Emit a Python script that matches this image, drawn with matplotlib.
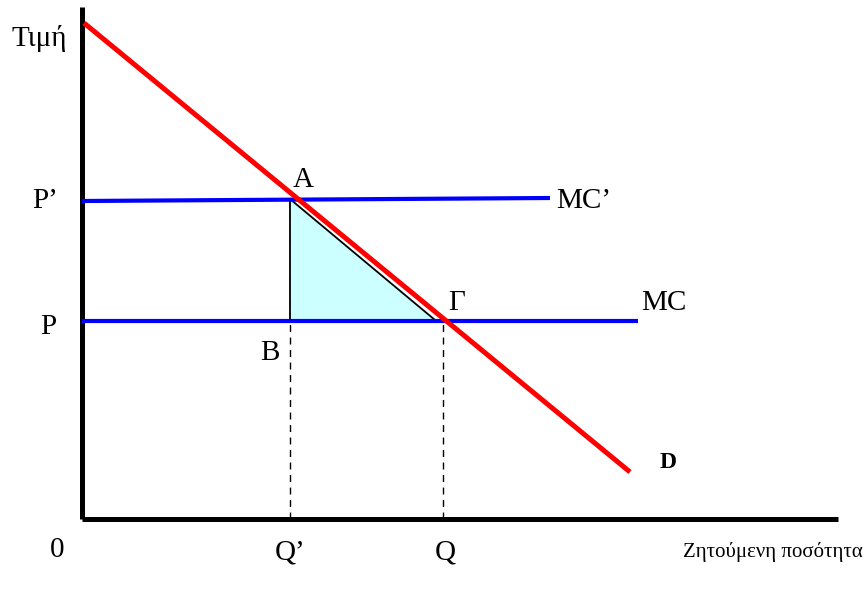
import matplotlib.pyplot as plt

# Demand / cost diagram (values in drawing units, origin at axis corner)
axis_len_q = 756
axis_len_p = 512

demand_q = [2, 548]
demand_p = [496, 47]

mc_high_q = [0, 468]
mc_high_p = [318, 321]      # MC'
mc_low_q = [0, 556]
mc_low_p = [198, 198]       # MC

q_prime = 208
q_comp = 361
p_prime = 320
p_comp = 199
gamma_q = 353

tri_q = [q_prime, q_prime, gamma_q]
tri_p = [p_prime, p_comp, p_comp]

plt.rcParams['font.family'] = ['Liberation Serif', 'DejaVu Serif']

fig = plt.figure(figsize=(8.65, 5.92), dpi=100)
ax = fig.add_axes([0, 0, 1, 1])
# map drawing units to the canvas
ax.set_xlim(-82, 865 - 82)
ax.set_ylim(519 - 592, 519)
ax.axis('off')

# axes
ax.plot([0, 0], [0, axis_len_p], color='black', lw=3.6, solid_capstyle='butt')
ax.plot([0, axis_len_q], [0, 0], color='black', lw=3.6, solid_capstyle='butt')

# shaded triangle
ax.fill(tri_q, tri_p, facecolor='#ccffff', edgecolor='black', lw=1.3, zorder=2)

# dashed guides
ax.plot([q_prime, q_prime], [0, p_prime], color='black', lw=1, ls=(0, (5, 4)), zorder=1)
ax.plot([q_comp, q_comp], [0, p_comp], color='black', lw=1, ls=(0, (5, 4)), zorder=1)

# cost lines
ax.plot(mc_high_q, mc_high_p, color='#0000ff', lw=3, solid_capstyle='butt', zorder=3)
ax.plot(mc_low_q, mc_low_p, color='#0000ff', lw=3, solid_capstyle='butt', zorder=3)

# demand
ax.plot(demand_q, demand_p, color='#ff0000', lw=3.6, solid_capstyle='butt', zorder=4)

fs = 21
ax.text(-43, 480, 'Τιμή', fontsize=fs, ha='center', va='center')
ax.text(-37, 318, 'P’', fontsize=fs, ha='center', va='center')
ax.text(-34, 192, 'P', fontsize=fs, ha='center', va='center')
ax.text(-25, -31, '0', fontsize=fs, ha='center', va='center')
ax.text(q_prime, -33, 'Q’', fontsize=fs, ha='center', va='center')
ax.text(q_comp + 2, -33, 'Q', fontsize=fs, ha='center', va='center')
ax.text(781, -33, 'Ζητούμενη ποσότητα', fontsize=15, ha='right', va='center')
ax.text(221, 339, 'A', fontsize=fs, ha='center', va='center')
ax.text(188, 166, 'B', fontsize=fs, ha='center', va='center')
ax.text(375, 216, 'Γ', fontsize=fs, ha='center', va='center')
ax.text(474, 318, 'MC’', fontsize=fs, ha='left', va='center')
ax.text(559, 216, 'MC', fontsize=fs, ha='left', va='center')
ax.text(586, 57, 'D', fontsize=17, fontweight='bold', ha='center', va='center')

fig.savefig('out.png', dpi=100)
